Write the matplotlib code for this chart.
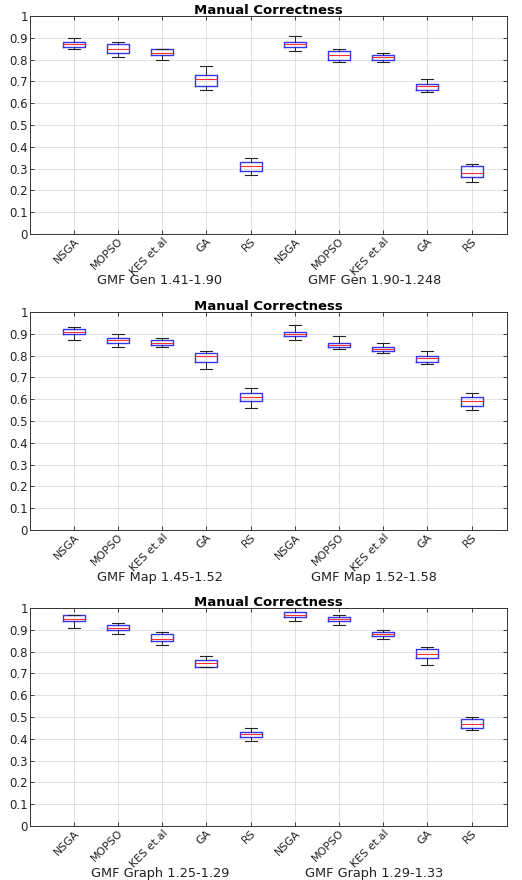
import matplotlib
matplotlib.use('Agg')
import matplotlib.pyplot as plt
from matplotlib.transforms import blended_transform_factory, ScaledTranslation

plt.rcParams['font.family'] = ['DejaVu Sans']

methods = ['NSGA', 'MOPSO', 'KES et.al', 'GA', 'RS']
titles = ['Manual Correctness', 'Manual Correctness', 'Manual Correctness']
group_labels = [
    ['GMF Gen 1.41-1.90', 'GMF Gen 1.90-1.248'],
    ['GMF Map 1.45-1.52', 'GMF Map 1.52-1.58'],
    ['GMF Graph 1.25-1.29', 'GMF Graph 1.29-1.33'],
]

# each box: (whisker low, q1, median, q3, whisker high)
gen_boxes = [
    (0.85, 0.86, 0.87, 0.88, 0.90),
    (0.81, 0.83, 0.85, 0.87, 0.88),
    (0.80, 0.82, 0.83, 0.85, 0.85),
    (0.66, 0.68, 0.71, 0.73, 0.77),
    (0.27, 0.29, 0.31, 0.33, 0.35),
    (0.84, 0.86, 0.87, 0.88, 0.91),
    (0.79, 0.80, 0.82, 0.84, 0.85),
    (0.79, 0.80, 0.81, 0.82, 0.83),
    (0.65, 0.66, 0.68, 0.69, 0.71),
    (0.24, 0.26, 0.28, 0.31, 0.32),
]
map_boxes = [
    (0.87, 0.90, 0.91, 0.92, 0.93),
    (0.84, 0.86, 0.87, 0.88, 0.90),
    (0.84, 0.85, 0.86, 0.87, 0.88),
    (0.74, 0.77, 0.80, 0.81, 0.82),
    (0.56, 0.59, 0.61, 0.63, 0.65),
    (0.87, 0.89, 0.90, 0.91, 0.94),
    (0.83, 0.84, 0.85, 0.86, 0.89),
    (0.81, 0.82, 0.83, 0.84, 0.86),
    (0.76, 0.77, 0.79, 0.80, 0.82),
    (0.55, 0.57, 0.59, 0.61, 0.63),
]
graph_boxes = [
    (0.91, 0.94, 0.95, 0.97, 0.97),
    (0.88, 0.90, 0.91, 0.92, 0.93),
    (0.83, 0.85, 0.86, 0.88, 0.89),
    (0.73, 0.73, 0.75, 0.76, 0.78),
    (0.39, 0.41, 0.42, 0.43, 0.45),
    (0.94, 0.96, 0.97, 0.98, 1.00),
    (0.92, 0.94, 0.95, 0.96, 0.97),
    (0.86, 0.87, 0.88, 0.89, 0.90),
    (0.74, 0.77, 0.79, 0.81, 0.82),
    (0.44, 0.45, 0.47, 0.49, 0.50),
]
all_boxes = [gen_boxes, map_boxes, graph_boxes]

fig = plt.figure(figsize=(5.22, 8.8), dpi=100)
bottoms = [1 - 234/880, 1 - 530/880, 1 - 826/880]

for k in range(3):
    ax = fig.add_axes([30/522, bottoms[k], 477/522, 218/880])
    stats = []
    for b in all_boxes[k]:
        stats.append({'whislo': b[0], 'q1': b[1], 'med': b[2], 'q3': b[3], 'whishi': b[4]})
    ax.bxp(stats, positions=range(1, 11), widths=0.5, showfliers=False,
           boxprops=dict(color='#3535f0', linewidth=1.0),
           medianprops=dict(color='#ff3030', linewidth=0.8),
           whiskerprops=dict(color='#222222', linewidth=0.7),
           capprops=dict(color='#222222', linewidth=0.8),
           capwidths=0.27)
    ax.set_xlim(0.01, 10.8)
    ax.set_ylim(0, 1)
    ax.set_yticks([i/10 for i in range(11)])
    ax.set_yticklabels(['0'] + ['0.%d' % i for i in range(1, 10)] + ['1'], fontsize=8.5)
    ax.set_xticks(range(1, 11))
    ax.set_xticklabels(methods * 2, rotation=45, ha='right', rotation_mode='anchor', fontsize=7.8)
    for lab in ax.get_xticklabels():
        lab.set_transform(lab.get_transform() + ScaledTranslation(10/100, -1/100, fig.dpi_scale_trans))
    ax.tick_params(direction='in', top=True, right=True, length=3, width=0.6, pad=1.5, colors='#222222')
    ax.grid(True, color='#dddddd', linewidth=0.6)
    ax.set_axisbelow(True)
    for s in ax.spines.values():
        s.set_color('#333333')
        s.set_linewidth(0.7)
    ax.set_title(titles[k], fontsize=9.5, fontweight='bold', pad=1.5)
    tr = blended_transform_factory(ax.transData, ax.transAxes) + ScaledTranslation(0, -47/100, fig.dpi_scale_trans)
    ax.text(2.95, 0, group_labels[k][0], transform=tr, ha='center', va='center', fontsize=9.3, color='#222222')
    ax.text(7.8, 0, group_labels[k][1], transform=tr, ha='center', va='center', fontsize=9.3, color='#222222')

fig.savefig('out.png', dpi=100)
